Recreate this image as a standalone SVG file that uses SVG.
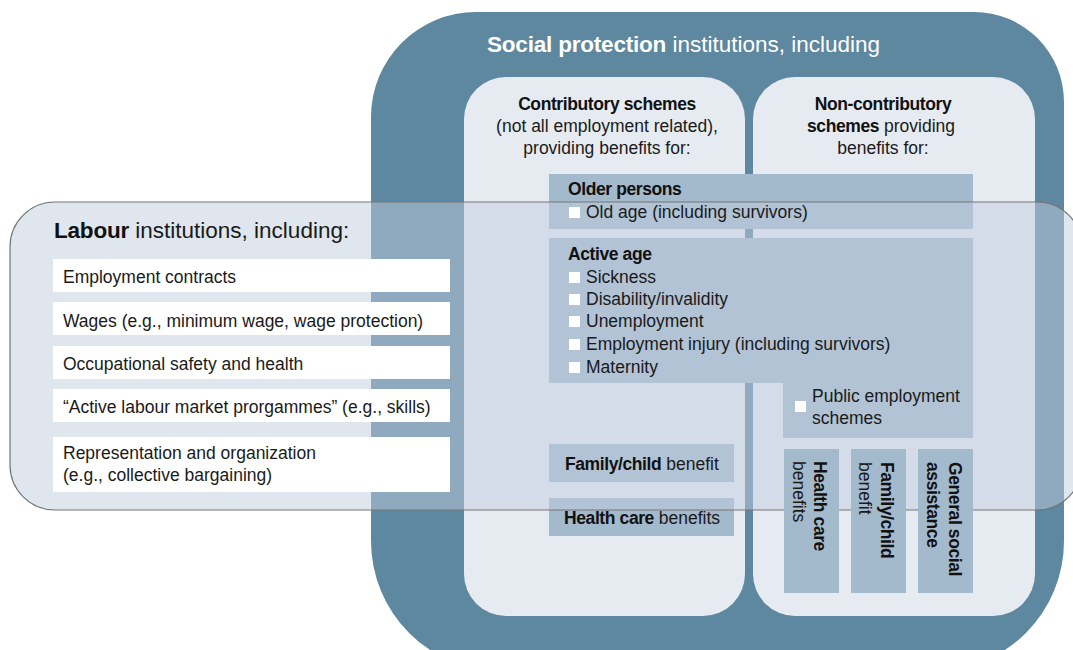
<svg xmlns="http://www.w3.org/2000/svg" width="1073" height="650" viewBox="0 0 1073 650">
<style>
text{font-family:"Liberation Sans",Arial,sans-serif;font-size:17.5px;fill:#1a1a1a}
.b{font-weight:700;fill:#111;letter-spacing:-0.4px}
.t{font-size:22.5px}
.w{fill:#fff}
.c{text-anchor:middle}
.blue{fill:#a3b9cc}
.col{fill:#e6ebf2}
.item{fill:#fff}
.sq{fill:#fff}
</style>
<rect width="1073" height="650" fill="#fff"/>
<g id="social-protection">
<path d="M476 12H974A90 90 0 0 1 1064 102V541A130 130 0 0 1 934 671H501A130 130 0 0 1 371 541V117A105 105 0 0 1 476 12Z" fill="#5e87a0"/>
<text x="487" y="52" class="t w"><tspan class="b w" style="letter-spacing:-0.2px">Social protection</tspan> institutions, including</text>
</g>
<g id="contributory">
<rect class="col" x="464" y="77" width="281" height="539" rx="42"/>
</g>
<g id="non-contributory">
<rect class="col" x="753" y="77" width="282" height="539" rx="42"/>
</g>
<g id="benefit-boxes">
<rect id="older-persons-box" class="blue" x="549" y="174" width="424" height="55"/>
<path id="active-age-box" class="blue" d="M549 238H973V438H783V383H549Z"/>
<rect id="family-child-box" class="blue" x="549" y="444" width="185" height="38"/>
<rect id="health-care-box" class="blue" x="549" y="498" width="185" height="38"/>
</g>
<g id="labour">
<rect x="10" y="202" width="1072" height="308" rx="45" fill="#c0cddd" fill-opacity="0.5" stroke="#767676" stroke-width="1.2"/>
</g>
<g id="vertical-boxes">
<rect class="blue" x="784" y="449" width="55" height="144"/>
<rect class="blue" x="851" y="449" width="55" height="144"/>
<rect class="blue" x="918" y="449" width="55" height="144"/>
</g>
<g id="labour-items">
<rect class="item" x="53" y="259" width="397" height="33"/>
<rect class="item" x="53" y="302" width="397" height="33"/>
<rect class="item" x="53" y="346" width="397" height="33"/>
<rect class="item" x="53" y="389" width="397" height="33"/>
<rect class="item" x="53" y="437" width="397" height="55"/>
<text x="54" y="238" class="t"><tspan class="b" style="letter-spacing:-0.2px">Labour</tspan> institutions, including:</text>
<text x="63" y="283">Employment contracts</text>
<text x="63" y="327">Wages (e.g., minimum wage, wage protection)</text>
<text x="63" y="370">Occupational safety and health</text>
<text x="63" y="413">“Active labour market prorgammes” (e.g., skills)</text>
<text x="63" y="459">Representation and organization</text>
<text x="63" y="481">(e.g., collective bargaining)</text>
</g>
<g id="column-headers">
<text x="607" y="110" class="c"><tspan class="b">Contributory schemes</tspan></text>
<text x="607" y="132" class="c">(not all employment related),</text>
<text x="607" y="154" class="c">providing benefits for:</text>
<text x="883" y="110" class="c"><tspan class="b">Non-contributory</tspan></text>
<text x="881" y="132" class="c"><tspan class="b">schemes</tspan> providing</text>
<text x="883" y="154" class="c">benefits for:</text>
</g>
<g id="older-persons">
<text x="568" y="195" class="b">Older persons</text>
<rect class="sq" x="569" y="207" width="11" height="11"/>
<text x="586" y="218">Old age (including survivors)</text>
</g>
<g id="active-age">
<text x="568" y="260" class="b">Active age</text>
<rect class="sq" x="569" y="272" width="11" height="11"/>
<text x="586" y="283">Sickness</text>
<rect class="sq" x="569" y="294" width="11" height="11"/>
<text x="586" y="305">Disability/invalidity</text>
<rect class="sq" x="569" y="316" width="11" height="11"/>
<text x="586" y="327">Unemployment</text>
<rect class="sq" x="569" y="339" width="11" height="11"/>
<text x="586" y="350">Employment injury (including survivors)</text>
<rect class="sq" x="569" y="362" width="11" height="11"/>
<text x="586" y="373">Maternity</text>
<rect class="sq" x="795" y="401" width="11" height="11"/>
<text x="812" y="402">Public employment</text>
<text x="812" y="424">schemes</text>
</g>
<g id="family-child-benefit">
<text x="565" y="470"><tspan class="b">Family/child</tspan> benefit</text>
</g>
<g id="health-care-benefits">
<text x="564" y="524"><tspan class="b">Health care</tspan> benefits</text>
</g>
<g id="nc-health-care">
<text transform="translate(814 461) rotate(90)"><tspan class="b">Health care</tspan><tspan x="0" dy="21">benefits</tspan></text>
</g>
<g id="nc-family-child">
<text transform="translate(881 462) rotate(90)"><tspan class="b">Family/child</tspan><tspan x="0" dy="22">benefit</tspan></text>
</g>
<g id="nc-general-social">
<text transform="translate(949 462) rotate(90)"><tspan class="b">General social</tspan><tspan x="0" dy="22" class="b">assistance</tspan></text>
</g>
<g id="connectors"></g>
</svg>
